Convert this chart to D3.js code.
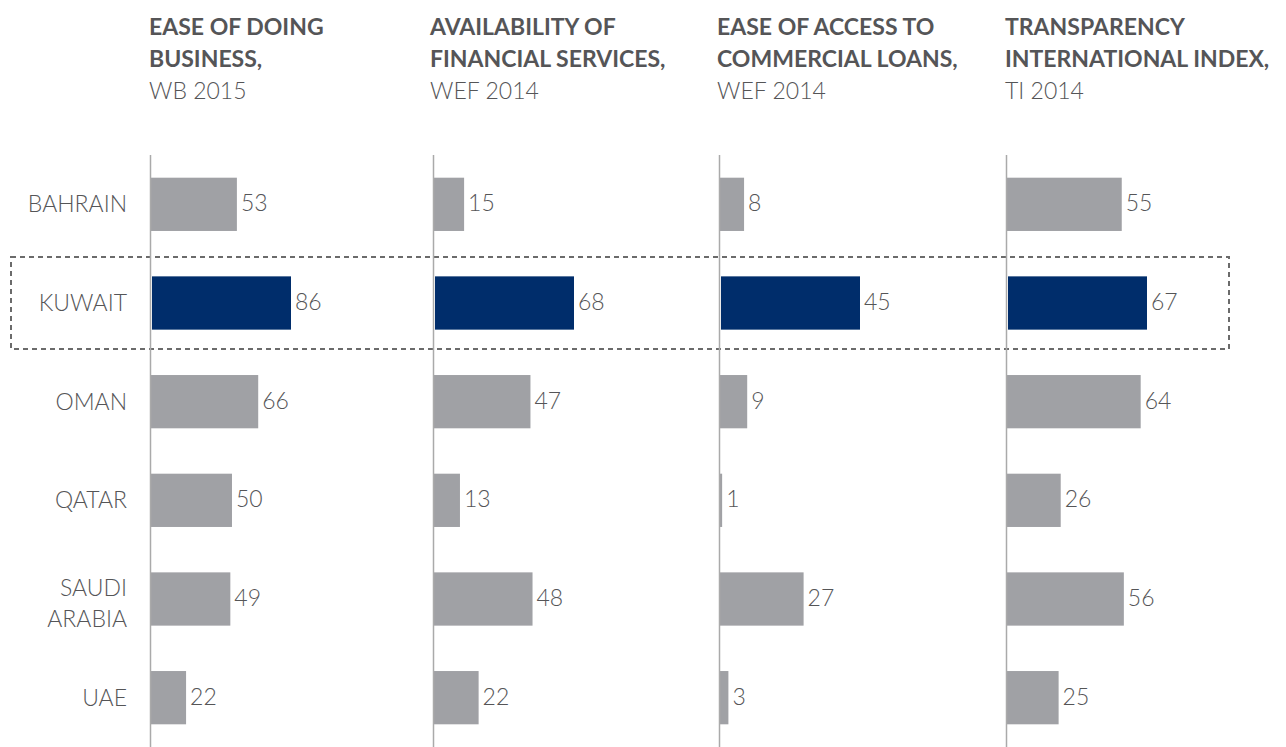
<!DOCTYPE html>
<html>
<head>
<meta charset="utf-8">
<script src="https://cdn.jsdelivr.net/npm/d3@7"></script>
<style>
  html, body { margin: 0; padding: 0; background: #fff; }
  svg { display: block; font-family: Lato, "Open Sans", sans-serif; }
</style>
</head>
<body>
<svg id="chart" width="1286" height="747"></svg>
<script>
// GCC country indicators, one small-multiple panel per index
const countries = ["BAHRAIN", "KUWAIT", "OMAN", "QATAR", "SAUDI ARABIA", "UAE"];
const highlight = "KUWAIT";

const panelTitles = [
  ["EASE OF DOING", "BUSINESS,"],
  ["AVAILABILITY OF", "FINANCIAL SERVICES,"],
  ["EASE OF ACCESS TO", "COMMERCIAL LOANS,"],
  ["TRANSPARENCY", "INTERNATIONAL INDEX,"]
];
const panelSources = ["WB 2015", "WEF 2014", "WEF 2014", "TI 2014"];

const easeOfDoingBusiness = [53, 86, 66, 50, 49, 22];
const financialServices   = [15, 68, 47, 13, 48, 22];
const commercialLoans     = [8, 45, 9, 1, 27, 3];
const transparencyIndex   = [55, 67, 64, 26, 56, 25];
const panelValues = [easeOfDoingBusiness, financialServices, commercialLoans, transparencyIndex];

(function draw() {
  const svg = d3.select("#chart");
  const panelX = [150, 433, 719, 1006];
  const titleX = [149, 430, 717, 1005];
  const maxBar = 141;
  const plotTop = 155, plotBottom = 747;
  const fontSize = 23;
  const textColor = "#555557";

  const y = d3.scaleBand().domain(countries).range([plotTop, plotBottom])
    .paddingInner(0.46).paddingOuter(0.23);

  // highlight frame around the featured country row
  const yc = y(highlight) + y.bandwidth() / 2;
  svg.append("rect")
    .attr("x", 11).attr("y", yc - 46)
    .attr("width", 1218).attr("height", 92)
    .attr("fill", "none").attr("stroke", "#6b6b6b")
    .attr("stroke-width", 2).attr("stroke-dasharray", "5,4");

  // country labels (two-word names wrap onto two lines)
  svg.append("g").selectAll("text")
    .data(countries).join("text")
    .attr("text-anchor", "end")
    .attr("fill", textColor)
    .attr("font-size", fontSize)
    .attr("font-weight", 300)
    .each(function(d) {
      const words = d.split(" ");
      const cy = y(d) + y.bandwidth() / 2;
      const lh = 31;
      const shift = words.length > 1 ? 4 : 0;
      const t = d3.select(this);
      words.forEach((w, i) => {
        t.append("tspan")
          .attr("x", 127)
          .attr("y", cy + 8 + shift + (i - (words.length - 1) / 2) * lh)
          .text(w);
      });
    });

  panelValues.forEach((vals, p) => {
    const x0 = panelX[p];
    const x = d3.scaleLinear().domain([0, d3.max(vals)]).range([x0, x0 + maxBar]);
    const g = svg.append("g");

    // title
    const title = g.append("text").attr("fill", textColor).attr("font-size", fontSize);
    panelTitles[p].forEach((line, i) => {
      title.append("tspan").attr("x", titleX[p]).attr("y", 35 + i * 32)
        .attr("font-weight", 700).text(line);
    });
    title.append("tspan").attr("x", titleX[p]).attr("y", 35 + 2 * 32)
      .attr("font-weight", 300).text(panelSources[p]);

    // bars
    const data = countries.map((c, i) => ({ c, v: vals[i] }));
    g.selectAll("rect.bar").data(data).join("rect")
      .attr("class", "bar")
      .attr("x", d => d.c === highlight ? x(0) + 2 : x(0))
      .attr("y", d => y(d.c))
      .attr("width", d => d.c === highlight ? x(d.v) - x(0) - 2 : x(d.v) - x(0))
      .attr("height", y.bandwidth())
      .attr("fill", d => d.c === highlight ? "#002d6b" : "#a0a1a5");

    // axis line
    g.append("line")
      .attr("x1", x0 + 0.5).attr("x2", x0 + 0.5)
      .attr("y1", plotTop).attr("y2", plotBottom)
      .attr("stroke", "#aaaaaa").attr("stroke-width", 1.5);

    // value labels
    g.selectAll("text.val").data(data).join("text")
      .attr("class", "val")
      .attr("x", d => x(d.v) + 4)
      .attr("y", d => y(d.c) + y.bandwidth() / 2 + 7)
      .attr("fill", textColor)
      .attr("font-size", fontSize)
      .attr("font-weight", 300)
      .text(d => d.v);
  });
})();
</script>
</body>
</html>
